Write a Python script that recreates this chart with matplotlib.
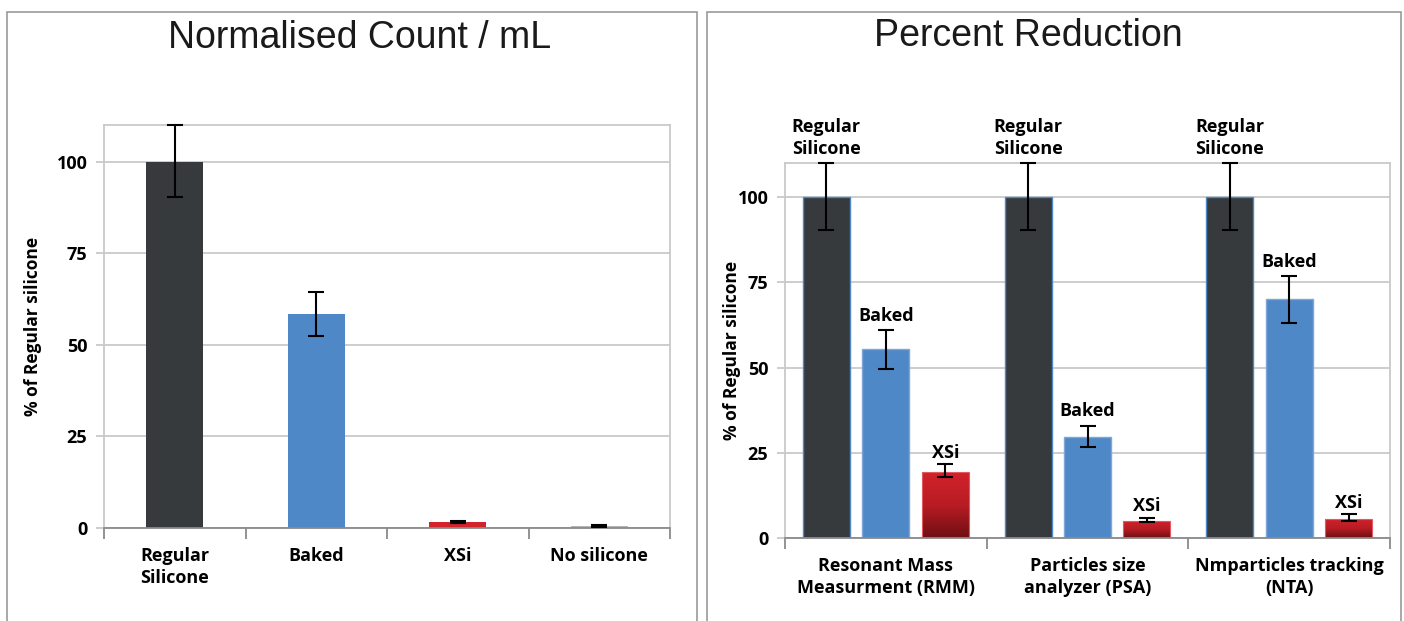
import numpy as np
import matplotlib
matplotlib.use("Agg")
import matplotlib.pyplot as plt
from matplotlib.colors import LinearSegmentedColormap
from matplotlib.patches import Rectangle
from matplotlib.lines import Line2D
from matplotlib.collections import LineCollection

# left panel: normalised count / mL
count_labels = ["Regular\nSilicone", "Baked", "XSi", "No silicone"]
count_values = [100, 58.4, 1.7, 0.6]
count_low = [90.4, 52.3, 1.5, 0.3]
count_high = [110, 64.3, 1.9, 0.9]

# right panel: percent reduction per method
methods = ["Resonant Mass\nMeasurment (RMM)", "Particles size\nanalyzer (PSA)", "Nmparticles tracking\n(NTA)"]
regular = [100, 100, 100]
regular_low = [90.4, 90.4, 90.4]
regular_high = [110, 110, 110]
baked = [55.3, 29.7, 70.2]
baked_low = [49.7, 26.6, 63.1]
baked_high = [61.1, 33.0, 76.8]
xsi = [19.3, 5.1, 5.7]
xsi_low = [17.8, 4.7, 5.1]
xsi_high = [21.6, 5.9, 6.9]

DARK = "#373a3d"
BLUE = "#4f88c6"
RED = "#d2222b"
GREY = "#b4b4b4"

plt.rcParams["font.family"] = ["Open Sans", "DejaVu Sans"]

fig = plt.figure(figsize=(14.04, 6.21), dpi=100)

# panel frames
fig.patches.append(Rectangle((7 / 1404, -0.05), 690 / 1404, 1.05 - 12 / 621,
                             transform=fig.transFigure, fill=False, ec="#9a9a9a", lw=1.2))
fig.patches.append(Rectangle((707 / 1404, -0.05), 694 / 1404, 1.05 - 12 / 621,
                             transform=fig.transFigure, fill=False, ec="#9a9a9a", lw=1.2))


def style_axes(ax, n):
    ax.set_ylim(0, 110)
    ax.set_xlim(-0.5, n - 0.5)
    ax.set_yticks([0, 25, 50, 75, 100])
    ax.yaxis.grid(True, color="#c9c9c9", lw=1.3)
    ax.set_axisbelow(True)
    for s in ["left", "top", "right"]:
        ax.spines[s].set_color("#c9c9c9")
        ax.spines[s].set_linewidth(1.3)
    ax.spines["bottom"].set_color("#8a8a8a")
    ax.spines["bottom"].set_linewidth(1.3)
    ax.set_xticks(np.arange(n + 1) - 0.5)
    ax.set_xticklabels([])
    ax.tick_params(axis="x", which="major", length=8, width=1.3, color="#8a8a8a", direction="out")
    ax.tick_params(axis="y", length=6, width=1.3, color="#c9c9c9", pad=6)
    ax.set_xticks(np.arange(n), minor=True)
    ax.tick_params(axis="x", which="minor", length=0, pad=14)
    for lab in ax.get_yticklabels():
        lab.set_fontweight("bold")
        lab.set_fontsize(13)
    ax.set_ylabel("% of Regular silicone", fontsize=12.5, fontweight="bold")


def unclip_errorbars(ax):
    # error bars reach the top frame, keep them drawn over it
    for art in ax.get_children():
        if isinstance(art, (Line2D, LineCollection)):
            art.set_clip_on(False)
            art.set_zorder(4)


err_kw = dict(ecolor="black", elinewidth=1.5, capsize=6, capthick=1.5)

# ---- left panel
ax1 = fig.add_axes([104 / 1404, 1 - 528 / 621, 566 / 1404, 403 / 621])
style_axes(ax1, 4)
x = np.arange(4)
yerr = [np.array(count_values) - np.array(count_low), np.array(count_high) - np.array(count_values)]
ax1.bar(x, count_values, width=0.4, color=[DARK, BLUE, RED, GREY], yerr=yerr, error_kw=err_kw, zorder=2)
unclip_errorbars(ax1)
ax1.set_xticklabels(count_labels, minor=True, fontsize=13, fontweight="bold", linespacing=1.25)
ax1.yaxis.set_label_coords(-0.11, 0.5)
fig.text(360 / 1404, 1 - 38 / 621, "Normalised Count / mL", ha="center", va="center",
         fontsize=27, family="Liberation Sans", color="#1a1a1a")

# ---- right panel
ax2 = fig.add_axes([785 / 1404, 1 - 538 / 621, 605 / 1404, 375 / 621])
style_axes(ax2, 3)
g = np.arange(3)
off = 0.295
w = 0.233


def errs(v, lo, hi):
    v, lo, hi = map(np.array, (v, lo, hi))
    return [v - lo, hi - v]


ax2.bar(g - off, regular, width=w, color=DARK, edgecolor=BLUE, lw=1,
        yerr=errs(regular, regular_low, regular_high), error_kw=err_kw, zorder=2)
ax2.bar(g, baked, width=w, color=BLUE, edgecolor="#7fa6d6", lw=1,
        yerr=errs(baked, baked_low, baked_high), error_kw=err_kw, zorder=2)
red_bars = ax2.bar(g + off, xsi, width=w, color="none", edgecolor="#e05a60", lw=0.8,
                   yerr=errs(xsi, xsi_low, xsi_high), error_kw=err_kw, zorder=3)
unclip_errorbars(ax2)

# gradient fill for the XSi bars
cmap = LinearSegmentedColormap.from_list("redgrad", ["#6e0f12", "#b81c24", RED])
grad = np.linspace(0, 1, 256).reshape(-1, 1)
for b in red_bars:
    x0, y0 = b.get_x(), b.get_y()
    im = ax2.imshow(grad, cmap=cmap, origin="lower", aspect="auto",
                    extent=[x0, x0 + b.get_width(), y0, y0 + b.get_height()], zorder=2)
    im.set_clip_path(b)
ax2.set_xlim(-0.5, 2.5)
ax2.set_ylim(0, 110)

for i in g:
    ax2.text(i - off, regular_high[i] + 1.5, "Regular\nSilicone", ha="center", va="bottom",
             fontsize=13, fontweight="bold", linespacing=1.25, clip_on=False)
    ax2.text(i, baked_high[i] + 1.5, "Baked", ha="center", va="bottom", fontsize=13, fontweight="bold")
    ax2.text(i + off, xsi_high[i] + 0.8, "XSi", ha="center", va="bottom", fontsize=13, fontweight="bold")

ax2.set_xticklabels(methods, minor=True, fontsize=13, fontweight="bold", linespacing=1.25)
ax2.yaxis.set_label_coords(-0.072, 0.5)
fig.text(1028 / 1404, 1 - 36 / 621, "Percent Reduction", ha="center", va="center",
         fontsize=27, family="Liberation Sans", color="#1a1a1a")

fig.savefig("out.png", dpi=100)
